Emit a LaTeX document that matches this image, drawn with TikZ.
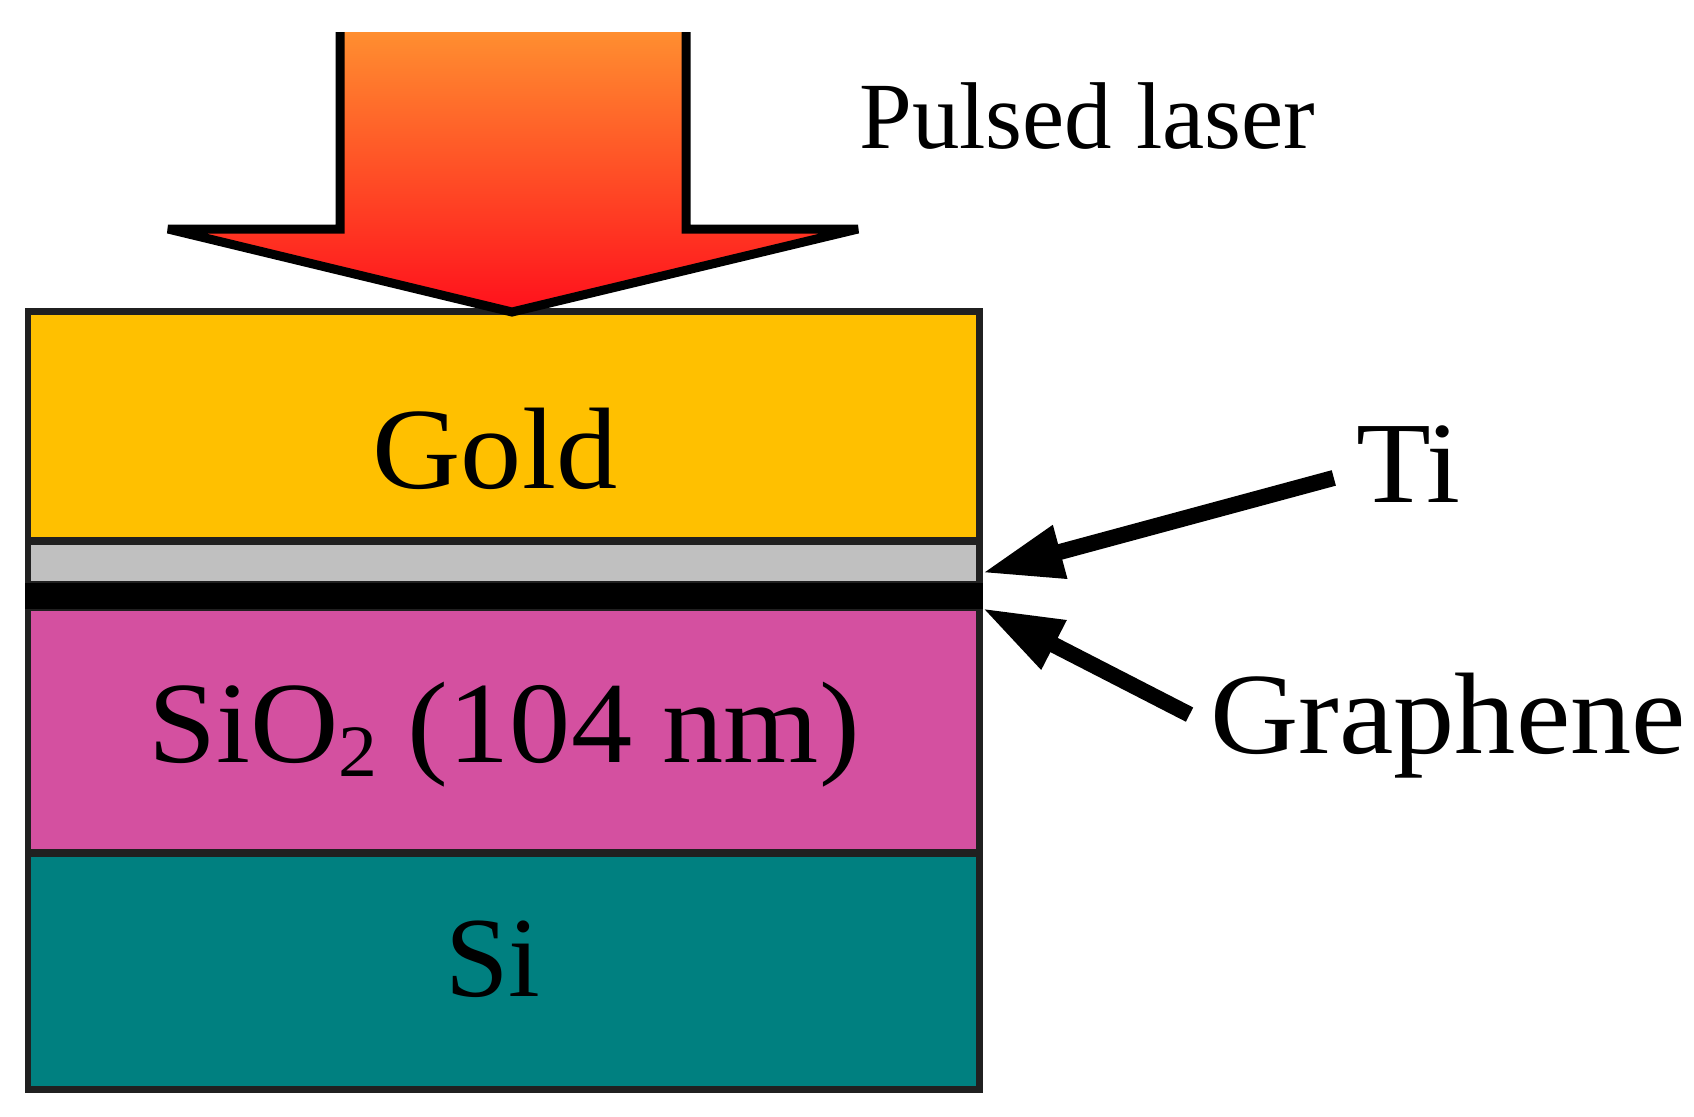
\documentclass[tikz,border=0pt]{standalone}
\usepackage{fontspec}
\setmainfont{Liberation Serif}
\newfontfamily\widefont[FakeStretch=1.055]{Liberation Serif}
\usetikzlibrary{arrows.meta}
\definecolor{goldlayer}{RGB}{255,192,0}
\definecolor{tilayer}{RGB}{192,192,192}
\definecolor{oxidelayer}{RGB}{212,80,160}
\definecolor{silayer}{RGB}{0,128,128}
\definecolor{edgegray}{RGB}{32,32,32}
\definecolor{laserhi}{RGB}{255,142,48}
\definecolor{lasermid}{RGB}{255,92,28}
\definecolor{laserlo}{RGB}{255,16,28}
\tikzset{
  layer/.style={draw=edgegray, line width=0.14cm, minimum width=19.04cm, inner sep=0pt, outer sep=0pt, anchor=north west},
  txt/.style={inner sep=0pt, font=\widefont\fontsize{66}{70}\selectfont},
  smalltxt/.style={inner sep=0pt, font=\fontsize{54}{60}\selectfont},
  pointer/.style={line width=0.32cm, -{Triangle[length=1.62cm, width=1.02cm]}},
}
\newcommand{\subtwo}{\raisebox{-8pt}{\fontsize{42}{42}\selectfont 2}}
\begin{document}
\begin{tikzpicture}[x=0.02cm, y=-0.02cm]
  \useasboundingbox (0,0) rectangle (1694,1116);
  \node[layer, fill=silayer, minimum height=4.74cm] (si) at (28,853){};
  \node[layer, fill=oxidelayer, minimum height=4.92cm] (oxide) at (28,607){};
  \node[layer, fill=tilayer, minimum height=0.86cm] (ti) at (28,541){};
  \node[layer, fill=black, draw=black, minimum height=0.38cm] (graphene) at (28,586){};
  \node[layer, fill=goldlayer, minimum height=4.6cm] (gold) at (28,311){};
  \shade[top color=laserhi, middle color=lasermid, bottom color=laserlo]
    (340,32) -- (340,229) -- (168,229) -- (512,312) -- (858,229) -- (686,229) -- (686,32) -- cycle;
  \draw[line width=0.18cm, draw=black, line join=miter, miter limit=4]
    (340,32) -- (340,229) -- (168,229) -- (512,312) -- (858,229) -- (686,229) -- (686,32);
  \node[smalltxt, anchor=base west] (laser) at (859,148){Pulsed laser};
  \node[txt, anchor=base] (goldtxt) at (495,488){Gold};
  \node[txt, anchor=base] (oxidetxt) at (504,762){SiO\subtwo{} (104 nm)};
  \node[txt, font=\fontsize{65}{70}\selectfont, anchor=base] (sitxt) at (493,996){Si};
  \node[txt, anchor=base west] (titxt) at (1356,502){Ti};
  \node[txt, anchor=base west] (graphenetxt) at (1210,753){Graphene};
  \coordinate (titip) at (982,573);
  \coordinate (graphenetip) at (982,608);
  \draw[pointer, shorten <=0.46cm] (titxt.189) -- (titip);
  \draw[pointer, shorten <=0.46cm] (graphenetxt.west) -- (graphenetip);
\end{tikzpicture}
\end{document}
